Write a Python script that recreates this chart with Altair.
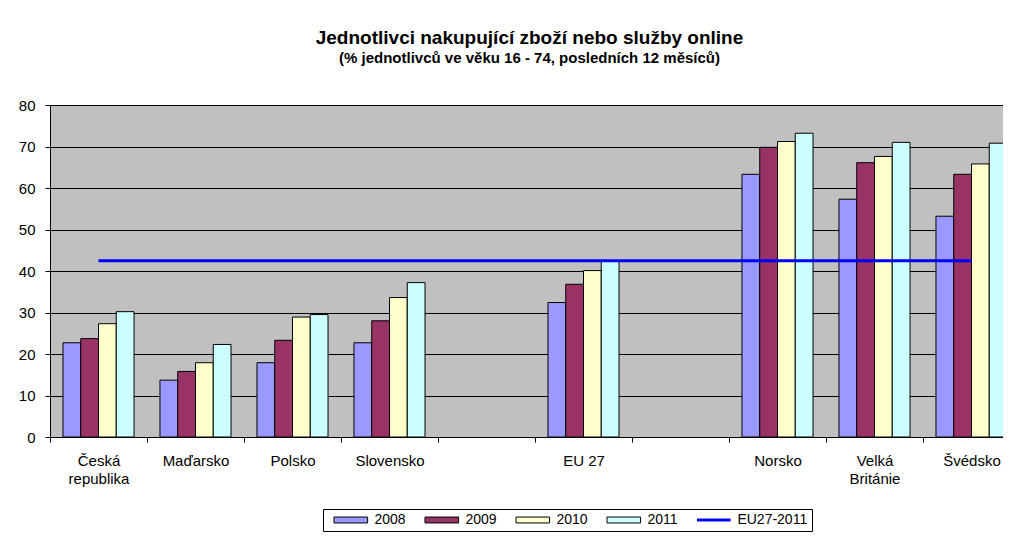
import altair as alt
import pandas as pd

# ---- data ----
countries = ["Česká republika", "Maďarsko", "Polsko", "Slovensko", "EU 27",
             "Norsko", "Velká Británie", "Švédsko"]
slots = ["Česká republika", "Maďarsko", "Polsko", "Slovensko", "_gap1", "EU 27",
         "_gap2", "Norsko", "Velká Británie", "Švédsko"]
years = ["2008", "2009", "2010", "2011"]
v2008 = [22.7, 13.7, 17.9, 22.7, 32.4, 63.3, 57.3, 53.2]
v2009 = [23.7, 15.8, 23.3, 28.0, 36.8, 69.8, 66.1, 63.3]
v2010 = [27.3, 17.9, 28.9, 33.6, 40.1, 71.2, 67.6, 65.8]
v2011 = [30.2, 22.3, 29.5, 37.2, 42.5, 73.2, 71.0, 70.8]
line_label = "EU27-2011"
eu27_2011 = v2011[countries.index("EU 27")]

title_text = "Jednotlivci nakupující zboží nebo služby online"
subtitle_text = "(% jednotlivců ve věku 16 - 74, posledních 12 měsíců)"

colors = ["#9999ff", "#993366", "#ffffcc", "#ccffff", "#0000ff"]

series = {"2008": v2008, "2009": v2009, "2010": v2010, "2011": v2011}
rows = []
for y in years:
    for c, v in zip(countries, series[y]):
        rows.append({"country": c, "year": y, "value": v})
df = pd.DataFrame(rows)

line_df = pd.DataFrame({
    "country": [countries[0], countries[-1]],
    "value": [eu27_2011, eu27_2011],
    "series": [line_label, line_label],
})

FONT = "Liberation Sans"
# the plot area runs past the right edge of the picture (cropped like the original)
X_RANGE = [0, 970]

x_scale = alt.Scale(domain=slots, paddingInner=0, paddingOuter=0, range=X_RANGE)

x_enc = alt.X(
    "country:N",
    scale=x_scale,
    axis=alt.Axis(
        title=None, labelAngle=0, tickBand="extent", tickSize=5, tickColor="black",
        domainColor="black", labelColor="black", labelFont=FONT, labelFontSize=15,
        labelPadding=11, labelLineHeight=18,
        labelExpr="indexof(datum.label, '_') == 0 ? '' : (indexof(datum.label, ' ') > 0 && datum.label != 'EU 27' ? split(datum.label, ' ') : datum.label)",
    ),
)
y_enc = alt.Y(
    "value:Q",
    scale=alt.Scale(domain=[0, 80], nice=False),
    axis=alt.Axis(
        title=None, values=list(range(0, 81, 10)), grid=True, gridColor="black",
        gridWidth=1, gridOpacity=1, tickSize=5, tickColor="black", domainColor="black",
        labelColor="black", labelFont=FONT, labelFontSize=15, labelPadding=10,
    ),
)

bar_path = "M-2.1,-0.37H2.1V0.37H-2.1Z"
line_path = "M-2.1,0H2.1"

bars = alt.Chart(df).mark_bar(stroke="black").encode(
    x=x_enc,
    xOffset=alt.XOffset("year:N", scale=alt.Scale(domain=years, paddingInner=0, paddingOuter=0.73)),
    y=y_enc,
    color=alt.Color(
        "year:N",
        scale=alt.Scale(domain=years + [line_label], range=colors),
        legend=alt.Legend(
            title=None, orient="none", legendX=273, legendY=404, direction="horizontal",
            columns=5, columnPadding=12, padding=4, strokeColor="black", fillColor="white",
            symbolType=alt.ExprRef(expr=f"datum.value == '{line_label}' ? '{line_path}' : '{bar_path}'"),
            symbolStrokeColor=alt.ExprRef(expr=f"datum.value == '{line_label}' ? '#0000ff' : 'black'"),
            symbolStrokeWidth=alt.ExprRef(expr=f"datum.value == '{line_label}' ? 3 : 1"),
            symbolSize=256, symbolOffset=16.8, labelOffset=16.6,
            labelFont=FONT, labelFontSize=14, labelColor="black",
        ),
    ),
)

line = alt.Chart(line_df).mark_line(color="#0000ff", strokeWidth=3).encode(
    x=alt.X("country:N", scale=x_scale),
    y=alt.Y("value:Q"),
)

chart = alt.layer(bars, line).properties(
    width=953,
    height=332,
    title=alt.Title(
        title_text, subtitle=subtitle_text, anchor="middle", frame="group", dx=3,
        font=FONT, fontSize=19, fontWeight="bold", color="black",
        subtitleFont=FONT, subtitleFontSize=15, subtitleFontWeight="bold",
        subtitleColor="black", offset=32, subtitlePadding=3,
    ),
    autosize=alt.AutoSizeParams(type="none"),
    padding={"left": 42, "top": 97, "right": 0, "bottom": 95},
    background="white",
).configure_view(fill="#c0c0c0", stroke=None)

chart.save("out.html", embed_options={"renderer": "svg", "actions": False})
